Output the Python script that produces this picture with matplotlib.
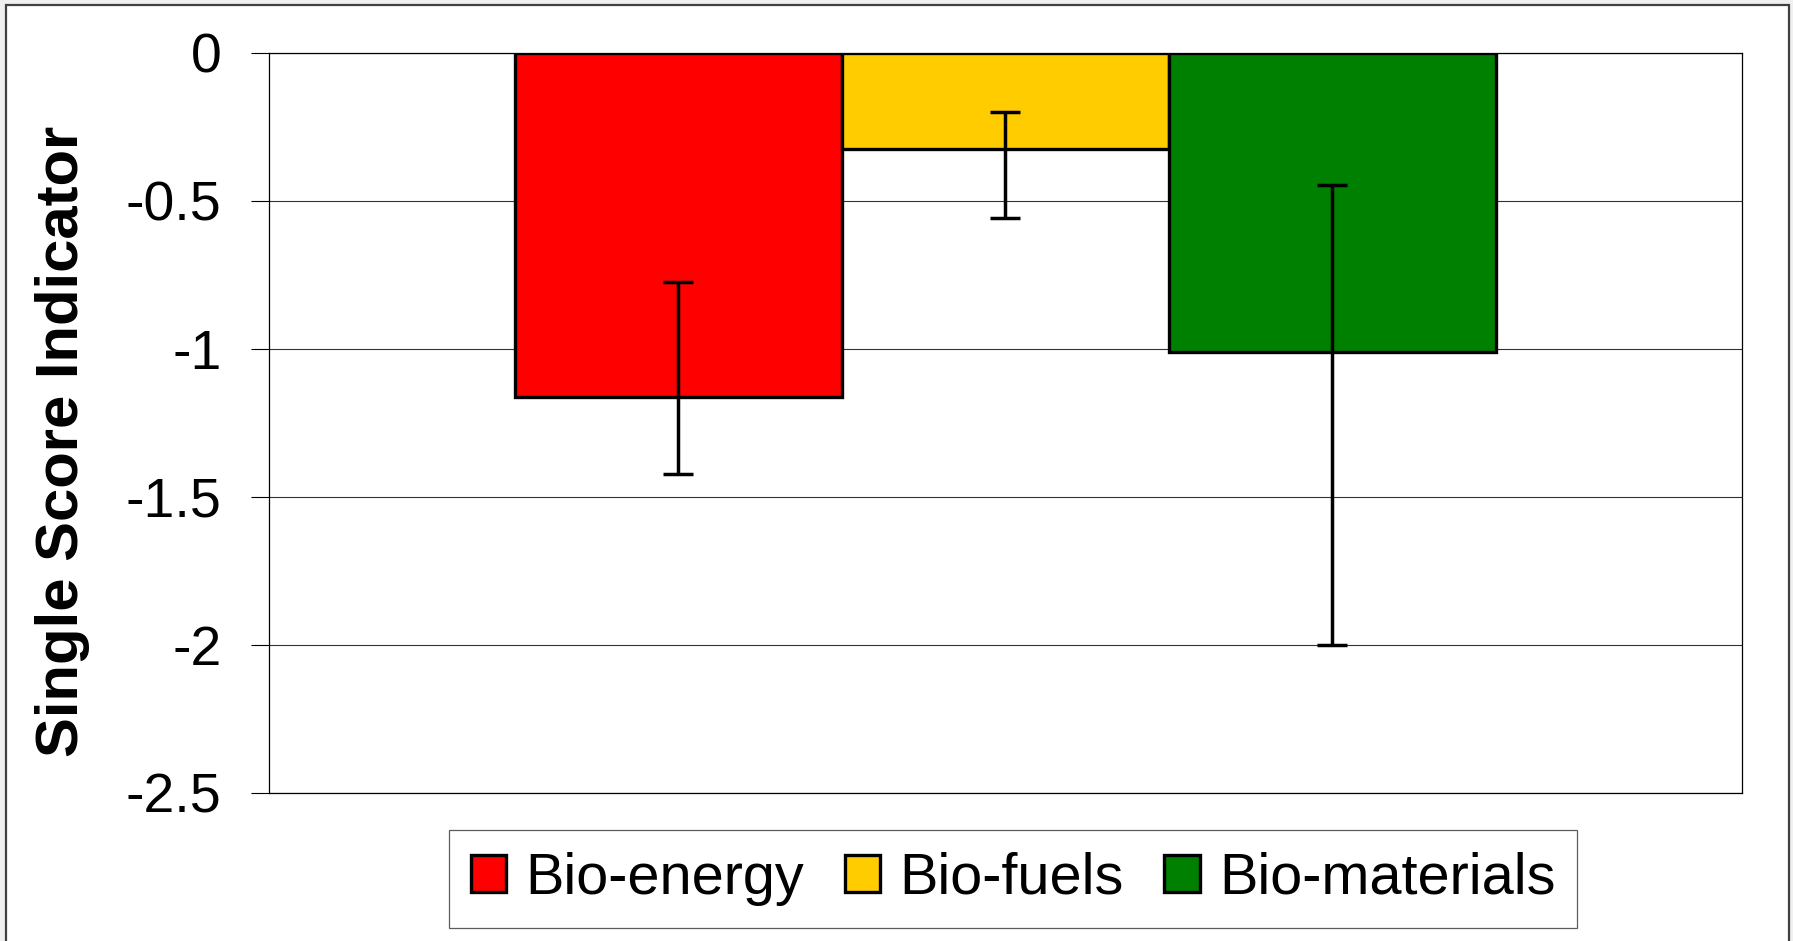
import numpy as np
import matplotlib
matplotlib.use('Agg')
import matplotlib.pyplot as plt
from matplotlib.patches import Rectangle

plt.rcParams['font.family'] = ['Liberation Sans', 'DejaVu Sans']

categories = ['Bio-energy', 'Bio-fuels', 'Bio-materials']
values = [-1.163, -0.325, -1.012]
err_high = [-0.775, -0.200, -0.448]
err_low = [-1.425, -0.560, -2.000]
colours = ['#FF0000', '#FFCC00', '#008000']
yticks = [0, -0.5, -1, -1.5, -2, -2.5]
ytick_labels = ['0', '-0.5', '-1', '-1.5', '-2', '-2.5']

fig = plt.figure(figsize=(17.93, 9.41), dpi=100, facecolor='#f0f0f0')
# white chart area with a dark frame, as in a spreadsheet chart
fig.patches.append(Rectangle((6 / 1793, -0.05), 1783 / 1793, 1.05 - 5 / 941,
                             transform=fig.transFigure, facecolor='white',
                             edgecolor='#404040', linewidth=1.6, zorder=-10))

ax = fig.add_axes([0.1499, 0.1578, 0.8216, 0.7862])

width = 0.222
x = (np.arange(len(categories)) - 1) * width
vals = np.array(values)
yerr = [vals - np.array(err_low), np.array(err_high) - vals]

bars = ax.bar(x, vals, width=width, color=colours, edgecolor='black',
              linewidth=2.4, zorder=3)
ax.errorbar(x, vals, yerr=yerr, fmt='none', ecolor='black', elinewidth=2.5,
            capsize=10.5, capthick=2.5, zorder=4)

ax.set_xlim(-0.5, 0.5)
ax.set_ylim(-2.5, 0)
ax.set_xticks([])
ax.set_yticks(yticks)
ax.set_yticklabels(ytick_labels, fontsize=40)
ax.tick_params(axis='y', direction='out', length=13, width=0.8, pad=21)
ax.yaxis.grid(True, color='#333333', linewidth=0.8, zorder=0)
ax.set_axisbelow(True)
for s in ax.spines.values():
    s.set_color('black')
    s.set_linewidth(0.9)

ax.set_ylabel('Single Score Indicator', fontsize=43, fontweight='bold')
ax.yaxis.set_label_coords(-0.1215, 0.475)

leg = fig.legend(bars, categories, loc='center', bbox_to_anchor=(0.565, 0.066),
                 ncol=3, fontsize=41.5, frameon=True, fancybox=False,
                 edgecolor='#333333', handlelength=0.62, handleheight=0.62,
                 handletextpad=0.33, columnspacing=0.7, borderpad=0.38,
                 borderaxespad=0)
leg.get_frame().set_linewidth(0.9)

fig.savefig('out.png', dpi=100, facecolor=fig.get_facecolor())
